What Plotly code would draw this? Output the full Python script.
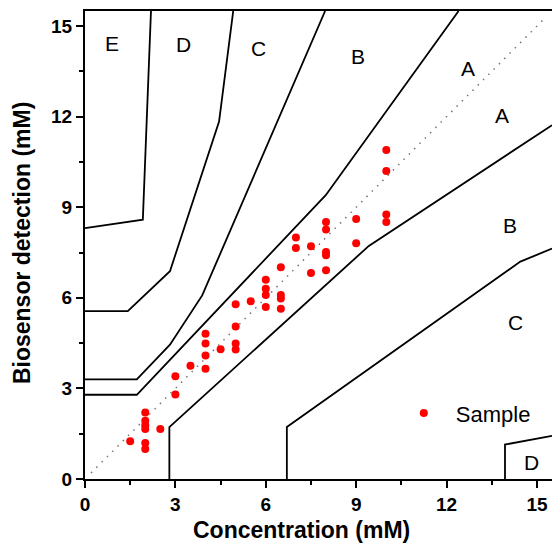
import plotly.graph_objects as go

# ---- data (mM) ----
sample_x = [1.5, 2, 2, 2, 2, 2, 2, 2.5, 3, 3, 3.5, 4, 4, 4, 4, 4.5, 5, 5, 5, 5, 5.5,
            6, 6, 6, 6, 6.5, 6.5, 6.5, 6.5, 7, 7, 7.5, 7.5, 8, 8, 8, 8, 8, 9, 9,
            10, 10, 10, 10]
sample_y = [1.25, 2.2, 1.93, 1.78, 1.66, 1.19, 0.99, 1.66, 3.4, 2.8, 3.75, 4.81, 4.49, 4.09, 3.65, 4.3,
            5.79, 5.05, 4.49, 4.29, 5.89, 6.6, 6.3, 6.09, 5.7, 7.01, 6.09, 5.98, 5.64,
            8.0, 7.65, 7.71, 6.82, 8.51, 8.26, 7.52, 7.41, 6.91, 8.61, 7.81,
            10.9, 10.2, 8.76, 8.51]

identity_x = [0.2, 15.3]
identity_y = [0.2, 15.3]

# zone boundary polylines
a_upper_x = [0, 1.72, 7.99, 12.4]
a_upper_y = [2.79, 2.79, 9.4, 15.5]
a_lower_x = [2.8, 2.8, 9.42, 15.5]
a_lower_y = [0, 1.72, 7.72, 11.72]
b_upper_x = [0, 1.72, 2.82, 3.89, 7.97]
b_upper_y = [3.3, 3.3, 4.45, 6.08, 15.5]
b_lower_x = [6.7, 6.7, 14.45, 15.5]
b_lower_y = [0, 1.72, 7.2, 7.63]
c_upper_x = [0, 1.42, 2.82, 4.45, 4.92]
c_upper_y = [5.56, 5.56, 6.88, 11.84, 15.5]
c_lower_x = [13.94, 13.94, 15.5]
c_lower_y = [0, 1.14, 1.43]
d_upper_x = [0, 1.92, 2.19]
d_upper_y = [8.31, 8.59, 15.5]

zone_labels = ["E", "D", "C", "B", "A", "A", "B", "C", "D"]
zone_label_x = [0.89, 3.27, 5.77, 9.06, 12.72, 13.84, 14.10, 14.29, 14.82]
zone_label_y = [14.44, 14.40, 14.25, 13.98, 13.58, 12.05, 8.39, 5.18, 0.55]

x_ticks = [0, 3, 6, 9, 12, 15]
y_ticks = [0, 3, 6, 9, 12, 15]

FONT = "Arial, 'Liberation Sans', sans-serif"

fig = go.Figure()

boundaries = [(a_upper_x, a_upper_y), (a_lower_x, a_lower_y),
              (b_upper_x, b_upper_y), (b_lower_x, b_lower_y),
              (c_upper_x, c_upper_y), (c_lower_x, c_lower_y),
              (d_upper_x, d_upper_y)]
for bx, by in boundaries:
    fig.add_trace(go.Scatter(x=bx, y=by, mode="lines",
                             line=dict(color="black", width=1.8),
                             showlegend=False, hoverinfo="skip", cliponaxis=False))

fig.add_trace(go.Scatter(x=identity_x, y=identity_y, mode="lines",
                         line=dict(color="#777777", width=1.5, dash="1.5px,6px"),
                         showlegend=False, hoverinfo="skip"))

fig.add_trace(go.Scatter(x=sample_x, y=sample_y, mode="markers", name="Sample",
                         marker=dict(color="#ff0000", size=8)))

for t, lx, ly in zip(zone_labels, zone_label_x, zone_label_y):
    fig.add_annotation(x=lx, y=ly, text=t, showarrow=False,
                       font=dict(family=FONT, size=21, color="black"),
                       xanchor="center", yanchor="middle")

fig.add_annotation(xref="paper", yref="paper", x=0.464, y=-0.109,
                   text="<b>Concentration (mM)</b>", showarrow=False,
                   font=dict(family=FONT, size=23, color="black"),
                   xanchor="center", yanchor="middle")
fig.add_annotation(xref="paper", yref="paper", x=-0.135, y=0.504,
                   text="<b>Biosensor detection (mM)</b>", showarrow=False,
                   textangle=-90,
                   font=dict(family=FONT, size=23, color="black"),
                   xanchor="center", yanchor="middle")

axis_common = dict(showgrid=False, zeroline=False, showline=True,
                   linecolor="black", linewidth=2,
                   ticks="outside", ticklen=7, tickwidth=2, tickcolor="black",
                   tickfont=dict(family=FONT, size=19, color="black", weight="bold"),
                   minor=dict(ticks="outside", ticklen=4, tickwidth=1.5,
                              tickcolor="black", dtick=1.5, tick0=0, showgrid=False))

fig.update_xaxes(range=[0, 15.5], tickvals=x_ticks, mirror=True, **axis_common)
fig.update_yaxes(range=[0, 15.5], tickvals=y_ticks, mirror=False, **axis_common)

fig.update_layout(
    width=552, height=544,
    margin=dict(l=85, r=0, t=11, b=65),
    plot_bgcolor="white", paper_bgcolor="white",
    showlegend=True,
    legend=dict(x=0.657, y=0.1855, xanchor="left", yanchor="top",
                bgcolor="rgba(0,0,0,0)", borderwidth=0, itemwidth=54,
                font=dict(family=FONT, size=22, color="black")),
)

fig.write_html("out.html")
